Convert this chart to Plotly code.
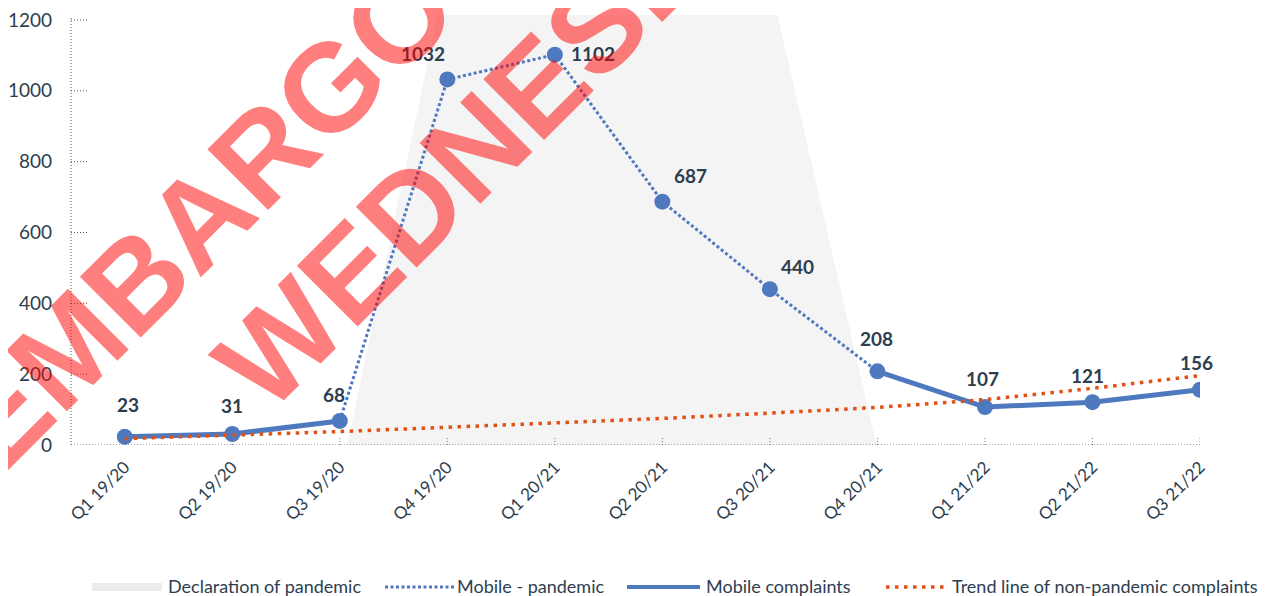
import plotly.graph_objects as go

# ---------------- data ----------------
quarters = ["Q1 19/20", "Q2 19/20", "Q3 19/20", "Q4 19/20", "Q1 20/21", "Q2 20/21",
            "Q3 20/21", "Q4 20/21", "Q1 21/22", "Q2 21/22", "Q3 21/22"]
mobile_complaints = [23, 31, 68, 1032, 1102, 687, 440, 208, 107, 121, 156]
pandemic_first, pandemic_last = 2, 7          # quarters joined by the dotted "pandemic" line
trend_non_pandemic = [18, 27, 38, 50, 62, 75, 90, 106, 128, 160, 196]
pandemic_band_x = [2.07, 2.91, 6.07, 6.99]    # declaration-of-pandemic band (category units)
pandemic_band_y = [0, 1214, 1214, 0]
y_ticks = [0, 200, 400, 600, 800, 1000, 1200]
legend_names = ["Declaration of pandemic", "Mobile - pandemic", "Mobile complaints",
                "Trend line of non-pandemic complaints"]
watermark_lines = ["EMBARGOED", "WEDNESDAY"]

# ---------------- styles ----------------
W, H = 1272, 596
OFF = 8                      # page body margin in the browser
# plot area in screen pixels: left 71, right 1200, top 15, bottom 445
SL, SR, ST, SB = 71, 1200, 15, 445
L, T = SL - OFF, ST - OFF
R, B = W - (SR - OFF), H - (SB - OFF)
PW, PH = SR - SL, SB - ST
BLUE = "rgb(79,121,191)"
ORANGE = "rgb(226,80,22)"
BAND = "#f4f4f4"
TXT = "#2d3e50"
FONT = "Lato"
Y_MAX = 1214

def px_x(p):
    return (p - SL) / PW

def px_y(p):
    return (SB - p) / PH

idx = list(range(len(quarters)))
solid_y = [v if (i <= pandemic_first or i >= pandemic_last) else None
           for i, v in enumerate(mobile_complaints)]
dotted_y = [v if pandemic_first <= i <= pandemic_last else None
            for i, v in enumerate(mobile_complaints)]

fig = go.Figure()
fig.add_trace(go.Scatter(x=pandemic_band_x, y=pandemic_band_y, fill="toself",
                         fillcolor=BAND, mode="none", name=legend_names[0],
                         showlegend=False, hoverinfo="skip"))
fig.add_trace(go.Scatter(x=idx, y=dotted_y, mode="lines", name=legend_names[1],
                         line=dict(color=BLUE, width=3, dash="3px,2.5px"),
                         connectgaps=False, showlegend=False))
fig.add_trace(go.Scatter(x=idx, y=solid_y, mode="lines", name=legend_names[2],
                         line=dict(color=BLUE, width=5), connectgaps=False,
                         showlegend=False))
fig.add_trace(go.Scatter(x=idx, y=mobile_complaints, mode="markers",
                         marker=dict(color=BLUE, size=16), showlegend=False,
                         name=legend_names[2]))
fig.add_trace(go.Scatter(x=idx, y=trend_non_pandemic, mode="lines",
                         name=legend_names[3],
                         line=dict(color=ORANGE, width=3.5, dash="3.5px,5.5px"),
                         showlegend=False))

# value labels
label_offsets = [(3, 32), (0, 29), (-6, 26), (-24, 26), (38, 1), (28, 26),
                 (28, 23), (-1, 33), (-2, 29), (-5, 27), (-4, 27)]
for i, v in enumerate(mobile_complaints):
    dx, dy = label_offsets[i]
    fig.add_annotation(x=i, y=v, text=f"<b>{v}</b>", showarrow=False,
                       xanchor="center", yanchor="middle", xshift=dx, yshift=dy,
                       font=dict(family=FONT, size=19, color=TXT))

shapes = []
dot_style = dict(color="#555", width=1, dash="1px,2px")
# dotted axis lines
shapes.append(dict(type="line", xref="x domain", yref="y", x0=0, x1=1, y0=0, y1=0,
                   line=dot_style, layer="above"))
shapes.append(dict(type="line", xref="x domain", yref="y", x0=0, x1=0, y0=0, y1=1205,
                   line=dot_style, layer="above"))
# short dotted tick marks
for t in y_ticks[1:]:
    shapes.append(dict(type="line", xref="x domain", yref="y", x0=0, x1=18 / PW,
                       y0=t, y1=t, line=dot_style, layer="above"))
for i in idx:
    shapes.append(dict(type="line", xref="x", yref="y domain", x0=i, x1=i,
                       y0=0, y1=8 / PH, line=dict(color="#777", width=1, dash="1px,2px"),
                       layer="above"))

# manual legend (screen pixel positions)
leg_y = 586
swatches = [
    (92, 162, dict(color="#ebebeb", width=8)),
    (385, 455, dict(color=BLUE, width=3, dash="3px,2.5px")),
    (627, 700, dict(color=BLUE, width=4)),
    (886, 945, dict(color=ORANGE, width=3.5, dash="3.5px,5.5px")),
]
text_left = [166, 455, 704, 950]
for (x0, x1, ln), tx, name in zip(swatches, text_left, legend_names):
    shapes.append(dict(type="line", xref="paper", yref="paper",
                       x0=px_x(x0), x1=px_x(x1), y0=px_y(leg_y + 1), y1=px_y(leg_y + 1),
                       line=ln))
    fig.add_annotation(xref="paper", yref="paper", x=px_x(tx), y=px_y(leg_y),
                       text=name, showarrow=False, xanchor="left", yanchor="middle",
                       font=dict(family=FONT, size=18, color=TXT))

# watermark
wm_centers = [(263, 153), (520, 102)]
for txt, (cx, cy) in zip(watermark_lines, wm_centers):
    fig.add_annotation(xref="paper", yref="paper", x=px_x(cx), y=px_y(cy),
                       text=f"<b>{txt}</b>", showarrow=False, textangle=-45,
                       xanchor="center", yanchor="middle",
                       font=dict(family="Liberation Sans", size=125,
                                 color="rgba(255,0,0,0.5)"))

fig.update_layout(
    width=W, height=H,
    margin=dict(l=L, r=R, t=T, b=B, pad=0, autoexpand=False),
    paper_bgcolor="white", plot_bgcolor="white",
    shapes=shapes,
    showlegend=False,
    xaxis=dict(range=[-0.5, 10.0], tickmode="array", tickvals=idx, ticktext=quarters,
               tickangle=-45, showgrid=False, zeroline=False, showline=False,
               ticks="", ticklabelstandoff=8, automargin=False,
               ticklabeloverflow="allow",
               tickfont=dict(family=FONT, size=17, color=TXT)),
    yaxis=dict(range=[0, Y_MAX], tickmode="array", tickvals=y_ticks,
               showgrid=False, zeroline=False, showline=False, ticks="",
               ticklabelstandoff=18, automargin=False, ticklabeloverflow="allow",
               tickfont=dict(family=FONT, size=19, color=TXT)),
)

fig.write_html("out.html")
